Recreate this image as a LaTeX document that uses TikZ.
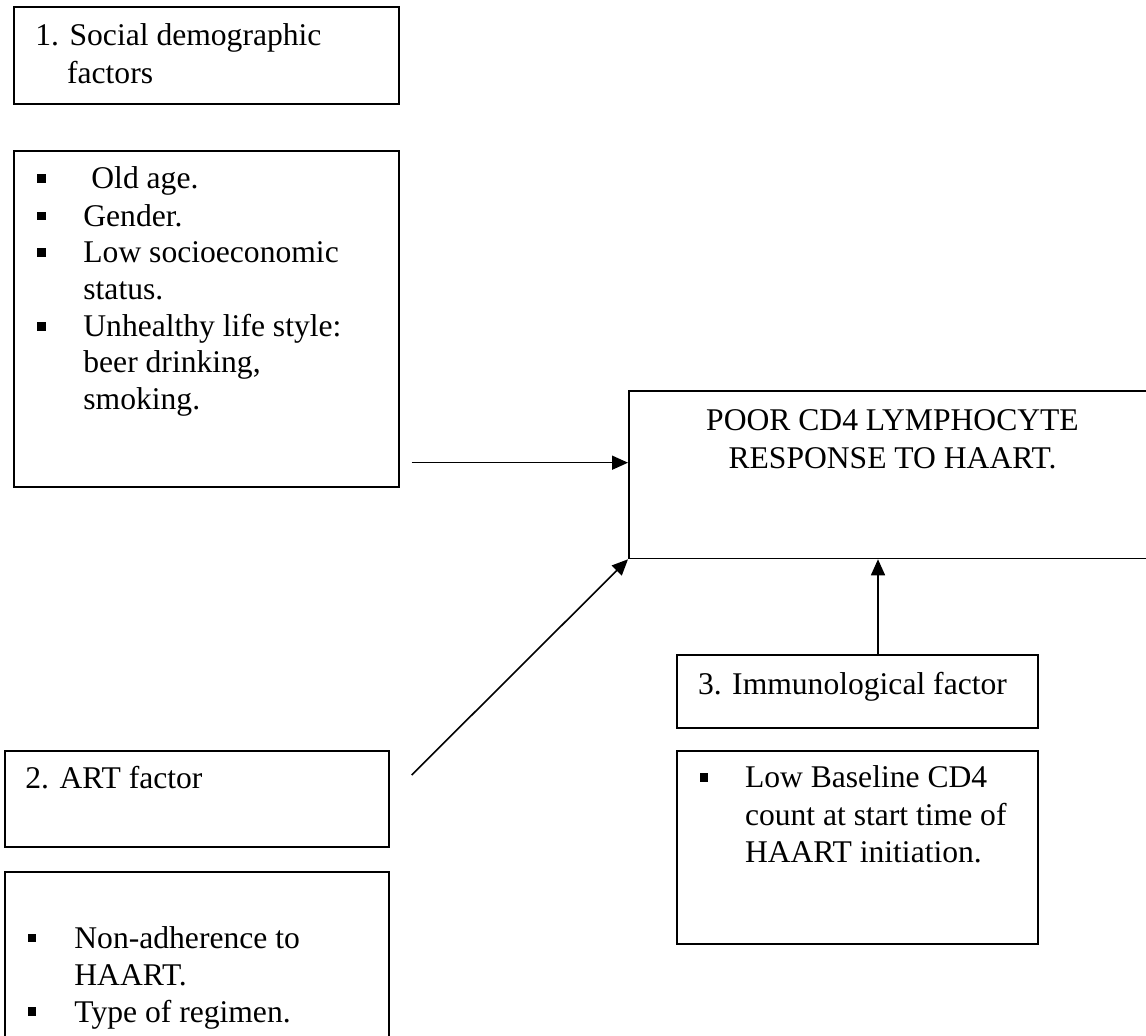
\documentclass[tikz,border=0pt]{standalone}
\usepackage{fontspec}
\setmainfont{Liberation Serif}
\usetikzlibrary{arrows.meta}
\begin{document}
\begin{tikzpicture}[x=0.5pt,y=-0.5pt,
  box/.style={draw, line width=0.8pt, rectangle, inner sep=0pt, anchor=north west},
  txt/.style={anchor=base west, inner sep=0pt, font=\fontsize{15.8}{18.7}\selectfont},
  ctxt/.style={anchor=base, inner sep=0pt, font=\fontsize{15.8}{18.7}\selectfont},
  arr/.style={line width=0.8pt, -{Triangle[length=8pt,width=7pt]}},
  bul/.style={fill, rectangle, minimum size=4.2pt, inner sep=0pt}]
\useasboundingbox (0,0) rectangle (1146,1036);

% boxes
\node[box, minimum width=385*0.5pt, minimum height=97*0.5pt] (B1) at (13,6) {};
\node[box, minimum width=385*0.5pt, minimum height=336*0.5pt] (B2) at (13,150) {};
\node[box, minimum width=530*0.5pt, minimum height=167.7*0.5pt] (POOR) at (628,390) {};
\node[box, minimum width=361*0.5pt, minimum height=73*0.5pt] (B3) at (676,654) {};
\node[box, minimum width=361*0.5pt, minimum height=193*0.5pt] (B3b) at (676,750) {};
\node[box, minimum width=384*0.5pt, minimum height=96*0.5pt] (ART) at (4,750) {};
\node[box, minimum width=384*0.5pt, minimum height=200*0.5pt] (ARTb) at (4,871) {};

% texts
\node[txt] (t1a) at (35,45.5) {1. Social demographic};
\node[txt] (t1b) at (66.7,83.3) {factors};

\node[txt] (t2a) at (91,189) {Old age.};
\node[txt] (t2b) at (83,226.7) {Gender.};
\node[txt] (t2c) at (83,263) {Low socioeconomic};
\node[txt] (t2d) at (83,300) {status.};
\node[txt] (t2e) at (83,337) {Unhealthy life style:};
\node[txt] (t2f) at (83,373) {beer drinking,};
\node[txt] (t2g) at (83,409.5) {smoking.};
\node[bul] (b2a) at (41.5,178.5) {};
\node[bul] (b2b) at (41.5,216) {};
\node[bul] (b2c) at (41.5,252.5) {};
\node[bul] (b2e) at (41.5,326.5) {};

\node[ctxt] (tpa) at (892.5,431) {POOR CD4 LYMPHOCYTE};
\node[ctxt] (tpb) at (892.5,468.7) {RESPONSE TO HAART.};

\node[txt] (t3) at (697.6,695) {3. Immunological factor};
\node[txt] (t3a) at (744.6,788) {Low Baseline CD4};
\node[txt] (t3b) at (744.6,825.7) {count at start time of};
\node[txt] (t3c) at (744.6,863) {HAART initiation.};
\node[bul] (b3a) at (704,777.5) {};

\node[txt] (tart) at (25,789) {2. ART factor};
\node[txt] (tra) at (74,948.7) {Non-adherence to};
\node[txt] (trb) at (74,985.3) {HAART.};
\node[txt] (trc) at (74,1022) {Type of regimen.};
\node[bul] (bra) at (32,938) {};
\node[bul] (brc) at (32,1011.5) {};

% connectors
\coordinate (h0) at (411.7,462.7);
\draw[arr] (h0) -- (POOR.west |- h0);
\coordinate (d0) at (411.7,775);
\draw[arr] (d0) -- (POOR.south west);
\coordinate (v0) at (878,0);
\draw[arr] (B3.north -| v0) -- (POOR.south -| v0);
\end{tikzpicture}
\end{document}
